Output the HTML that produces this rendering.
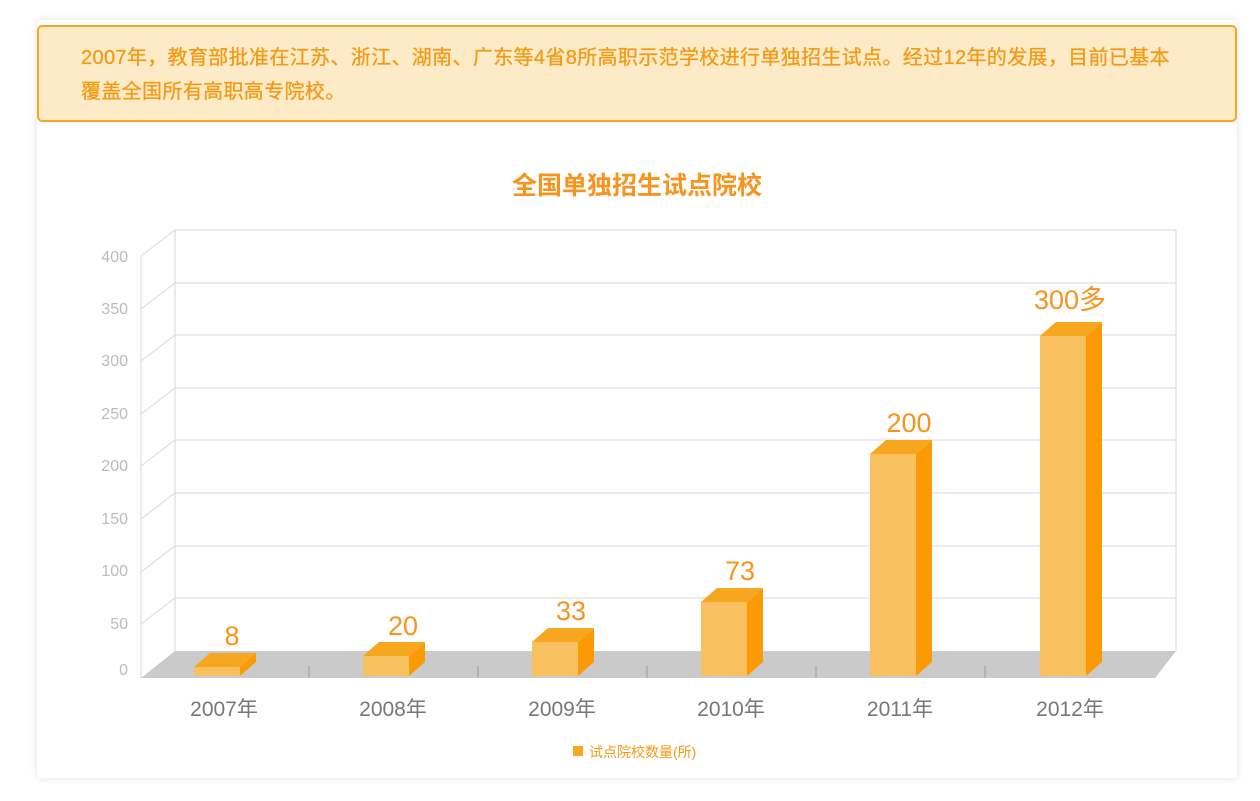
<!DOCTYPE html>
<html><head><meta charset="utf-8"><style>
body{margin:0;width:1260px;height:801px;background:#fff;font-family:"Liberation Sans","Noto Sans CJK SC",sans-serif;overflow:hidden}
.card{position:absolute;left:37px;top:20px;width:1200px;height:758px;background:#fff;box-shadow:0 0 8px rgba(0,0,0,0.12);border-radius:4px}
.banner{position:absolute;left:37px;top:25px;width:1200px;height:97px;background:#fdeac6;border:2px solid #f6a724;border-radius:5px;box-sizing:border-box;color:#f39a14;font-size:20px;line-height:34px;padding:14px 0 0 42px;letter-spacing:0.35px;white-space:nowrap;-webkit-text-stroke:0.3px #f39a14}
svg{position:absolute;left:0;top:0}
</style></head><body>
<div class="card"></div>
<div class="banner">2007年，教育部批准在江苏、浙江、湖南、广东等4省8所高职示范学校进行单独招生试点。经过12年的发展，目前已基本<br>覆盖全国所有高职高专院校。</div>
<svg width="1260" height="801" font-family="Liberation Sans, Noto Sans CJK SC, sans-serif">
<text x="637" y="194" text-anchor="middle" font-size="25" font-weight="bold" fill="#f7941d">全国单独招生试点院校</text>
<g stroke="#d8d8d8" stroke-width="1" fill="none">
<line x1="175" y1="230" x2="1176" y2="230"/>
<line x1="175" y1="283" x2="1176" y2="283"/><line x1="141" y1="309" x2="175" y2="283"/>
<line x1="175" y1="335" x2="1176" y2="335"/><line x1="141" y1="361" x2="175" y2="335"/>
<line x1="175" y1="388" x2="1176" y2="388"/><line x1="141" y1="414" x2="175" y2="388"/>
<line x1="175" y1="440" x2="1176" y2="440"/><line x1="141" y1="466" x2="175" y2="440"/>
<line x1="175" y1="493" x2="1176" y2="493"/><line x1="141" y1="519" x2="175" y2="493"/>
<line x1="175" y1="546" x2="1176" y2="546"/><line x1="141" y1="572" x2="175" y2="546"/>
<line x1="175" y1="598" x2="1176" y2="598"/><line x1="141" y1="624" x2="175" y2="598"/>
<line x1="141" y1="256" x2="175" y2="230"/>
<line x1="175" y1="230" x2="175" y2="651"/><line x1="1176" y1="230" x2="1176" y2="651"/>
<line x1="141" y1="256" x2="141" y2="678"/>
</g>
<polygon points="141,678 175,651 1176,651 1155,678" fill="#cacaca"/>
<g stroke="#999" stroke-width="1"><line x1="309" y1="666" x2="309" y2="678"/><line x1="478" y1="666" x2="478" y2="678"/><line x1="647" y1="666" x2="647" y2="678"/><line x1="816" y1="666" x2="816" y2="678"/><line x1="985" y1="666" x2="985" y2="678"/></g>
<g font-size="16" fill="#bbb" text-anchor="end">
<text x="128" y="262">400</text><text x="128" y="314">350</text><text x="128" y="366">300</text><text x="128" y="419">250</text><text x="128" y="471">200</text><text x="128" y="524">150</text><text x="128" y="576">100</text><text x="128" y="629">50</text><text x="128" y="675">0</text>
</g>
<g id="bars"></g>
<g font-size="21" fill="#777" text-anchor="middle">
<text x="224" y="716">2007年</text><text x="393" y="716">2008年</text><text x="562" y="716">2009年</text><text x="731" y="716">2010年</text><text x="900" y="716">2011年</text><text x="1070" y="716">2012年</text>
</g>
<g font-size="27" fill="#f7941d" text-anchor="middle">
<text x="232" y="645">8</text><text x="403" y="635">20</text><text x="571" y="620">33</text><text x="740" y="580">73</text><text x="909" y="432">200</text><text x="1070" y="309">300多</text>
</g>
<rect x="573" y="746" width="10" height="10" fill="#f6a623"/>
<text x="589" y="757" font-size="14" fill="#f39a14">试点院校数量(所)</text>
</svg>
<script>
var xs=[194,363,532,701,870,1040],tops=[667,656,642,602,454,336],b=676,w=46,d=16,h=14,s='';
for(var i=0;i<6;i++){var x=xs[i],t=tops[i];
s+='<rect x="'+x+'" y="'+t+'" width="'+w+'" height="'+(b-t)+'" fill="#f8c05e"/>';
s+='<polygon points="'+(x+w)+','+t+' '+(x+w+d)+','+(t-h)+' '+(x+w+d)+','+(b-h)+' '+(x+w)+','+b+'" fill="#fb9a05"/>';
s+='<polygon points="'+x+','+t+' '+(x+d)+','+(t-h)+' '+(x+w+d)+','+(t-h)+' '+(x+w)+','+t+'" fill="#f6a61f"/>';}
document.getElementById('bars').innerHTML=s;
</script>
</body></html>
